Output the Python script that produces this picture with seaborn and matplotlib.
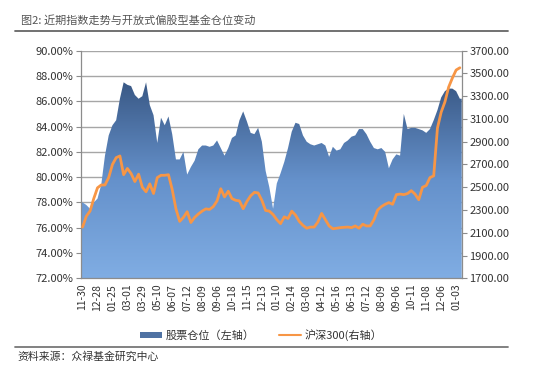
import numpy as np
import pandas as pd
import matplotlib
matplotlib.use("Agg")
import matplotlib.pyplot as plt
import seaborn as sns
from matplotlib.patches import Patch
from matplotlib.lines import Line2D
from matplotlib.colors import LinearSegmentedColormap

# ---- data ----
tick_labels = ["11-30", "12-28", "01-25", "03-01", "03-29", "05-10", "06-07", "07-12",
               "08-09", "09-06", "10-18", "11-15", "12-13", "01-10", "02-14", "03-08",
               "04-12", "05-16", "06-13", "07-12", "08-09", "09-06", "10-11", "11-08",
               "12-06", "01-03"]

position = [78.0, 77.8, 77.5, 78.0, 78.3, 79.4, 81.7, 83.3, 84.1, 84.5,
            86.2, 87.5, 87.3, 87.2, 86.5, 86.2, 86.4, 87.5, 85.7, 84.9,
            82.7, 84.7, 84.1, 84.8, 83.4, 81.4, 81.4, 82.0, 80.2, 80.8,
            81.3, 82.2, 82.5, 82.5, 82.4, 82.5, 82.9, 82.3, 81.7, 82.3,
            83.1, 83.3, 84.5, 85.2, 84.4, 83.5, 83.4, 83.9, 82.8, 80.5,
            79.2, 77.5, 79.5, 80.3, 81.2, 82.3, 83.6, 84.3, 84.2, 83.3,
            82.8, 82.6, 82.5, 82.6, 82.7, 82.5, 81.6, 82.4, 82.1, 82.2,
            82.7, 82.9, 83.2, 83.3, 83.8, 83.8, 83.4, 82.8, 82.3, 82.2,
            82.3, 82.0, 80.7, 81.4, 81.8, 81.7, 85.0, 83.8, 83.9, 83.9,
            83.8, 83.7, 83.5, 83.8, 84.5, 85.3, 86.3, 86.8, 87.0, 87.0,
            86.8, 86.2]

hs300 = [2150, 2245, 2290, 2400, 2495, 2520, 2520, 2585, 2700, 2760,
         2775, 2610, 2665, 2620, 2550, 2615, 2500, 2460, 2530, 2445,
         2585, 2605, 2605, 2610, 2480, 2310, 2200, 2235, 2285, 2190,
         2235, 2265, 2290, 2310, 2305, 2330, 2380, 2487, 2415, 2465,
         2400, 2385, 2380, 2311, 2375, 2425, 2455, 2450, 2385, 2296,
         2290, 2260, 2215, 2180, 2240, 2225, 2290, 2255, 2200, 2165,
         2140, 2150, 2150, 2195, 2270, 2215, 2160, 2135, 2140, 2145,
         2148, 2150, 2145, 2160, 2140, 2175, 2160, 2160, 2215, 2300,
         2330, 2350, 2365, 2350, 2435, 2440, 2435, 2445, 2470, 2440,
         2390, 2500, 2515, 2585, 2600, 3020, 3160, 3250, 3380, 3460,
         3530, 3550]

title = "图2: 近期指数走势与开放式偏股型基金仓位变动"
legend_labels = ["股票仓位（左轴）", "沪深300(右轴）"]
source = "资料来源：众禄基金研究中心"

# ---- style ----
sns.set_style("white")
plt.rcParams["font.family"] = ["Noto Sans CJK SC", "DejaVu Sans"]

df = pd.DataFrame({"idx": np.arange(len(position)), "pos": position, "hs300": hs300})
idx = df["idx"].to_numpy()

fig = plt.figure(figsize=(5.5, 3.78), dpi=100)
ax = fig.add_axes([0.1467, 0.2638, 0.6928, 0.6021])

gray = "#8c8c8c"
ymin, ymax = 72, 90
ax.set_ylim(ymin, ymax)
ax.set_xlim(idx[0] - 0.5, idx[-1] + 0.5)

# area with vertical gradient
xe = np.r_[idx[0] - 0.5, idx, idx[-1] + 0.5]
ye = np.r_[position[0], position, position[-1]]
poly = ax.fill_between(xe, ymin, ye, color="none", lw=0)
cmap = LinearSegmentedColormap.from_list("g", ["#80ade3", "#6591cb", "#3a5986"])
grad = np.linspace(0, 1, 256).reshape(-1, 1)
im = ax.imshow(grad, extent=[xe[0], xe[-1], ymin, max(position)], origin="lower",
               cmap=cmap, aspect="auto", zorder=1)
im.set_clip_path(poly.get_paths()[0], transform=ax.transData)
ax.set_ylim(ymin, ymax)
ax.set_xlim(idx[0] - 0.5, idx[-1] + 0.5)

ax.set_yticks(np.arange(ymin, ymax + 0.1, 2))
ax.set_yticklabels([f"{v:.2f}%" for v in np.arange(ymin, ymax + 0.1, 2)])
ax.yaxis.grid(True, color="#a6a6a6", lw=1.0)
ax.set_axisbelow(True)

ax.set_xticks(idx[::4])
ax.set_xticklabels(tick_labels, rotation=90)
ax.set_xticks(np.arange(idx[0] - 0.5, idx[-1] + 0.6, 2), minor=True)
ax.tick_params(axis="x", which="major", length=0, pad=4, labelsize=7.5, labelcolor="#333333")
ax.tick_params(axis="x", which="minor", length=3.5, color=gray, width=0.8, direction="out")
ax.tick_params(axis="y", length=3.5, color=gray, width=0.8, direction="out",
               labelsize=8, labelcolor="#333333", pad=2)

for s in ["top", "right"]:
    ax.spines[s].set_visible(False)
for s in ["left", "bottom"]:
    ax.spines[s].set_color(gray)
    ax.spines[s].set_linewidth(0.9)
ax.set_xlabel("")
ax.set_ylabel("")

# line on right axis
ax2 = ax.twinx()
sns.lineplot(data=df, x="idx", y="hs300", ax=ax2, color="#F79646", lw=2.0, zorder=3)
ax2.set_ylim(1700, 3700)
ax2.set_xlim(idx[0] - 0.5, idx[-1] + 0.5)
rt = np.arange(1700, 3701, 200)
ax2.set_yticks(rt)
ax2.set_yticklabels([f"{v:.2f}" for v in rt])
ax2.tick_params(axis="y", length=3.5, color=gray, width=0.8, direction="out",
                labelsize=8, labelcolor="#333333", pad=2)
ax2.grid(False)
for s in ["top", "left", "bottom"]:
    ax2.spines[s].set_visible(False)
ax2.spines["right"].set_color(gray)
ax2.spines["right"].set_linewidth(0.9)
ax2.set_xlabel("")
ax2.set_ylabel("")

# title & rules
fig.text(0.038, 0.946, title, fontsize=8, color="#555555", style="italic",
         va="center", ha="left")
fig.add_artist(Line2D([0.027, 0.924], [0.918, 0.918], color="#666666", lw=1.3,
                      transform=fig.transFigure))
fig.add_artist(Line2D([0.027, 0.924], [0.083, 0.083], color="#777777", lw=1.3,
                      transform=fig.transFigure))
fig.text(0.031, 0.056, source, fontsize=7.8, color="#333333", va="center", ha="left")

handles = [Patch(facecolor="#4f72a3", edgecolor="none"),
           Line2D([0], [0], color="#F79646", lw=1.5)]
fig.legend(handles, legend_labels, loc="center", bbox_to_anchor=(0.475, 0.114),
           ncol=2, frameon=False, fontsize=8, handlelength=2.0, handleheight=0.5,
           columnspacing=2.2, handletextpad=0.3, labelcolor="#333333")

fig.savefig("out.png", dpi=100)
